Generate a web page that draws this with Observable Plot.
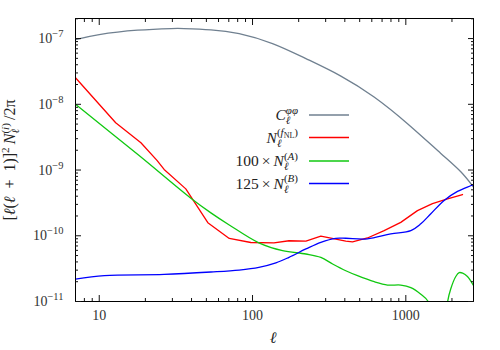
<!DOCTYPE html>
<html><head><meta charset="utf-8">
<script src="https://cdn.jsdelivr.net/npm/d3@7"></script>
<script src="https://cdn.jsdelivr.net/npm/@observablehq/plot@0.6"></script>
<style>body{margin:0;background:#fff}#chart{width:500px;height:350px}</style>
</head><body><div id="chart"></div>
<script>
// C_ell^{phi phi}
const ellC = [7, 10, 17.8, 29.4, 35.8, 53.5, 81.8, 135, 223, 377, 621, 1026, 1691, 2284, 2764];
const cPhiPhi = [9.66e-8, 1.15e-7, 1.34e-7, 1.42e-7, 1.42e-7, 1.36e-7, 1.19e-7, 8.4e-8, 4.96e-8, 2.69e-8, 1.29e-8, 5.06e-9, 1.79e-9, 9.4e-10, 5.5e-10];
// N_ell^{(fNL)}
const ellF = [7, 12.8, 18.7, 23.8, 26.5, 36.7, 51.1, 70.5, 97.5, 138, 173, 223, 279, 406, 449, 562, 722, 927, 1191, 1492, 1870, 2344];
const nFNL = [2.54e-8, 5.25e-9, 2.6e-9, 1.4e-9, 1.02e-9, 5.17e-10, 1.58e-10, 9.1e-11, 7.9e-11, 7.8e-11, 8.4e-11, 8.3e-11, 9.9e-11, 8.3e-11, 8.1e-11, 9.25e-11, 1.2e-10, 1.6e-10, 2.41e-10, 3.09e-10, 3.64e-10, 4.24e-10];
// 100 x N_ell^{(A)}  (null = sign change, curve leaves the log axis)
const ellA = [7, 18.2, 39.6, 53.5, 70.5, 110, 157, 223, 279, 333, 406, 484, 622, 760, 927, 1078, 1253, 1397, 1430, 1460, 1600, 1830, 1875, 1963, 2118, 2228, 2350, 2524, 2764];
const nA100 = [1.0e-8, 1.66e-9, 3.72e-10, 2.23e-10, 1.46e-10, 7.8e-11, 5.93e-11, 5.28e-11, 4.69e-11, 3.72e-11, 2.94e-11, 2.47e-11, 2.0e-11, 1.78e-11, 1.78e-11, 1.63e-11, 1.29e-11, 1.0e-11, 6e-12, 2e-12, null, 5e-12, 1.0e-11, 1.55e-11, 2.4e-11, 2.75e-11, 2.7e-11, 2.4e-11, 1.75e-11];
// 125 x N_ell^{(B)}
const ellB = [7, 10.8, 26.5, 53.5, 81.8, 110, 142, 173, 223, 279, 349, 406, 562, 798, 1078, 1253, 1456, 1778, 2174, 2764];
const nB125 = [2.19e-11, 2.47e-11, 2.58e-11, 2.81e-11, 3.01e-11, 3.3e-11, 3.86e-11, 4.7e-11, 6.3e-11, 7.96e-11, 9.16e-11, 9.16e-11, 8.97e-11, 1.07e-10, 1.2e-10, 1.52e-10, 2.16e-10, 3.45e-10, 4.73e-10, 5.98e-10];

const xMajorTicks = [10, 100, 1000];
const xMinorTicks = [8, 9, 20, 30, 40, 50, 60, 70, 80, 90, 200, 300, 400, 500, 600, 700, 800, 900, 2000];
const yMajorTicks = [1e-11, 1e-10, 1e-9, 1e-8, 1e-7];
const yMinorTicks = [].concat(...[1e-11, 1e-10, 1e-9, 1e-8, 1e-7].map(d => [2,3,4,5,6,7,8,9].map(k => k * d))).filter(v => v <= 2.02e-7);

const seriesColors = ["#708090", "#ff0000", "#10c810", "#0000ff"];

const FONT = "'Liberation Serif', 'DejaVu Serif', serif";
const rows = (xs, ys) => xs.map((x, i) => ({x, y: ys[i]}));

const lineOpts = (c, curve) => ({x: "x", y: "y", stroke: c, strokeWidth: 1.3, curve, clip: true});

const plot = Plot.plot({
  width: 500, height: 350,
  marginLeft: 75, marginRight: 27, marginTop: 18, marginBottom: 49,
  x: {type: "log", domain: [7, 2764]},
  y: {type: "log", domain: [1e-11, 2.02e-7]},
  style: {fontFamily: FONT, fontSize: "14px", background: "#fff", color: "#111"},
  marks: [
    Plot.line(rows(ellC, cPhiPhi), lineOpts(seriesColors[0], "natural")),
    Plot.line(rows(ellF, nFNL), lineOpts(seriesColors[1], "linear")),
    Plot.line(rows(ellA, nA100), lineOpts(seriesColors[2], "catmull-rom")),
    Plot.line(rows(ellB, nB125), lineOpts(seriesColors[3], "catmull-rom")),
    Plot.frame({stroke: "#000"}),
    // inward ticks on all sides
    Plot.axisX(xMajorTicks, {anchor: "bottom", tickSize: -6, fill: "none", label: null}),
    Plot.axisX(xMinorTicks, {anchor: "bottom", tickSize: -3, fill: "none", label: null}),
    Plot.axisX(xMajorTicks, {anchor: "top", tickSize: -6, fill: "none", label: null}),
    Plot.axisX(xMinorTicks, {anchor: "top", tickSize: -3, fill: "none", label: null}),
    Plot.axisY(yMajorTicks, {anchor: "left", tickSize: -6, fill: "none", label: null}),
    Plot.axisY(yMinorTicks, {anchor: "left", tickSize: -3, fill: "none", label: null}),
    Plot.axisY(yMajorTicks, {anchor: "right", tickSize: -6, fill: "none", label: null}),
    Plot.axisY(yMinorTicks, {anchor: "right", tickSize: -3, fill: "none", label: null}),
    // tick labels
    Plot.axisX(xMajorTicks, {anchor: "bottom", tickSize: 0, tickPadding: 9, tickFormat: d => String(d), label: null, fill: "#333"}),
    Plot.axisY(yMajorTicks, {anchor: "left", tickSize: 0, tickPadding: 12, tickFormat: d => "10^" + Math.round(Math.log10(d)), label: null, fill: "#333"})
  ]
});
document.getElementById("chart").appendChild(plot);

const svg = d3.select(plot);

// LaTeX-like exponents on y tick labels
svg.selectAll("text").each(function() {
  const s = this.textContent;
  const m = /^10\^(-?\d+)$/.exec(s);
  if (!m) return;
  const t = d3.select(this);
  t.selectAll("*").remove();
  t.text(null);
  t.append("tspan").text("10");
  t.append("tspan").attr("font-size", 10.5).attr("dy", -6).text(m[1].replace("-", "\u2212"));
});

// helper for math-like text
function mathText(parent, x, y, anchor, segs, fs, rotate) {
  const t = parent.append("text").attr("x", x).attr("y", y).attr("text-anchor", anchor)
    .attr("font-family", FONT).attr("font-size", fs).attr("fill", "#222");
  if (rotate) t.attr("transform", `rotate(${rotate},${x},${y})`);
  let cur = 0, prev = null;
  segs.forEach(s => {
    const sp = t.append("tspan").text(s.t).attr("font-size", s.fs || fs);
    if (s.it) sp.attr("font-style", "italic");
    const by = s.by || 0;
    if (by !== cur) sp.attr("dy", by - cur);
    cur = by;
    if (s.back && prev) sp.attr("dx", -prev.node().getComputedTextLength());
    if (!s.cont) prev = sp;
  });
  return t;
}

const g = svg.append("g");
const SUB = 4, SUP = -6.5, SS = 11;
const TIMES = "\u2009\u00d7\u2009";
const legendRows = [
  [{t: "C", it: true}, {t: "\u2113", it: true, fs: SS, by: SUB}, {t: "\u03c6\u03c6", it: true, fs: SS, by: SUP, back: true}],
  [{t: "N", it: true}, {t: "\u2113", it: true, fs: SS, by: SUB}, {t: "(", fs: SS, by: SUP, back: true, cont: true}, {t: "f", it: true, fs: SS, by: SUP, cont: true}, {t: "NL", fs: 8, by: SUP + 2, cont: true}, {t: ")", fs: SS, by: SUP, cont: true}],
  [{t: "100" + TIMES}, {t: "N", it: true}, {t: "\u2113", it: true, fs: SS, by: SUB}, {t: "(", fs: SS, by: SUP, back: true, cont: true}, {t: "A", it: true, fs: SS, by: SUP, cont: true}, {t: ")", fs: SS, by: SUP, cont: true}],
  [{t: "125" + TIMES}, {t: "N", it: true}, {t: "\u2113", it: true, fs: SS, by: SUB}, {t: "(", fs: SS, by: SUP, back: true, cont: true}, {t: "B", it: true, fs: SS, by: SUP, cont: true}, {t: ")", fs: SS, by: SUP, cont: true}]
];
const legendY = [115, 137.5, 161, 183.5];
legendRows.forEach((segs, i) => {
  mathText(g, 298, legendY[i] + 5, "end", segs, 15.5);
  g.append("line").attr("x1", 309).attr("x2", 349).attr("y1", legendY[i]).attr("y2", legendY[i])
    .attr("stroke", seriesColors[i]).attr("stroke-width", 1.3);
});

// axis titles
mathText(g, 273, 343, "middle", [{t: "\u2113", it: true}], 16);
mathText(g, 15, 160, "middle", [
  {t: "["}, {t: "\u2113", it: true}, {t: "("}, {t: "\u2113", it: true}, {t: "\u2002+\u20021)]"},
  {t: "2", fs: SS, by: SUP}, {t: "\u2009", by: 0},
  {t: "N", it: true}, {t: "\u2113", it: true, fs: SS, by: SUB},
  {t: "(", fs: SS, by: SUP, back: true, cont: true}, {t: "i", it: true, fs: SS, by: SUP, cont: true}, {t: ")", fs: SS, by: SUP, cont: true},
  {t: "\u2009/2\u03c0", by: 0}
], 16, -90);
</script>
</body></html>
